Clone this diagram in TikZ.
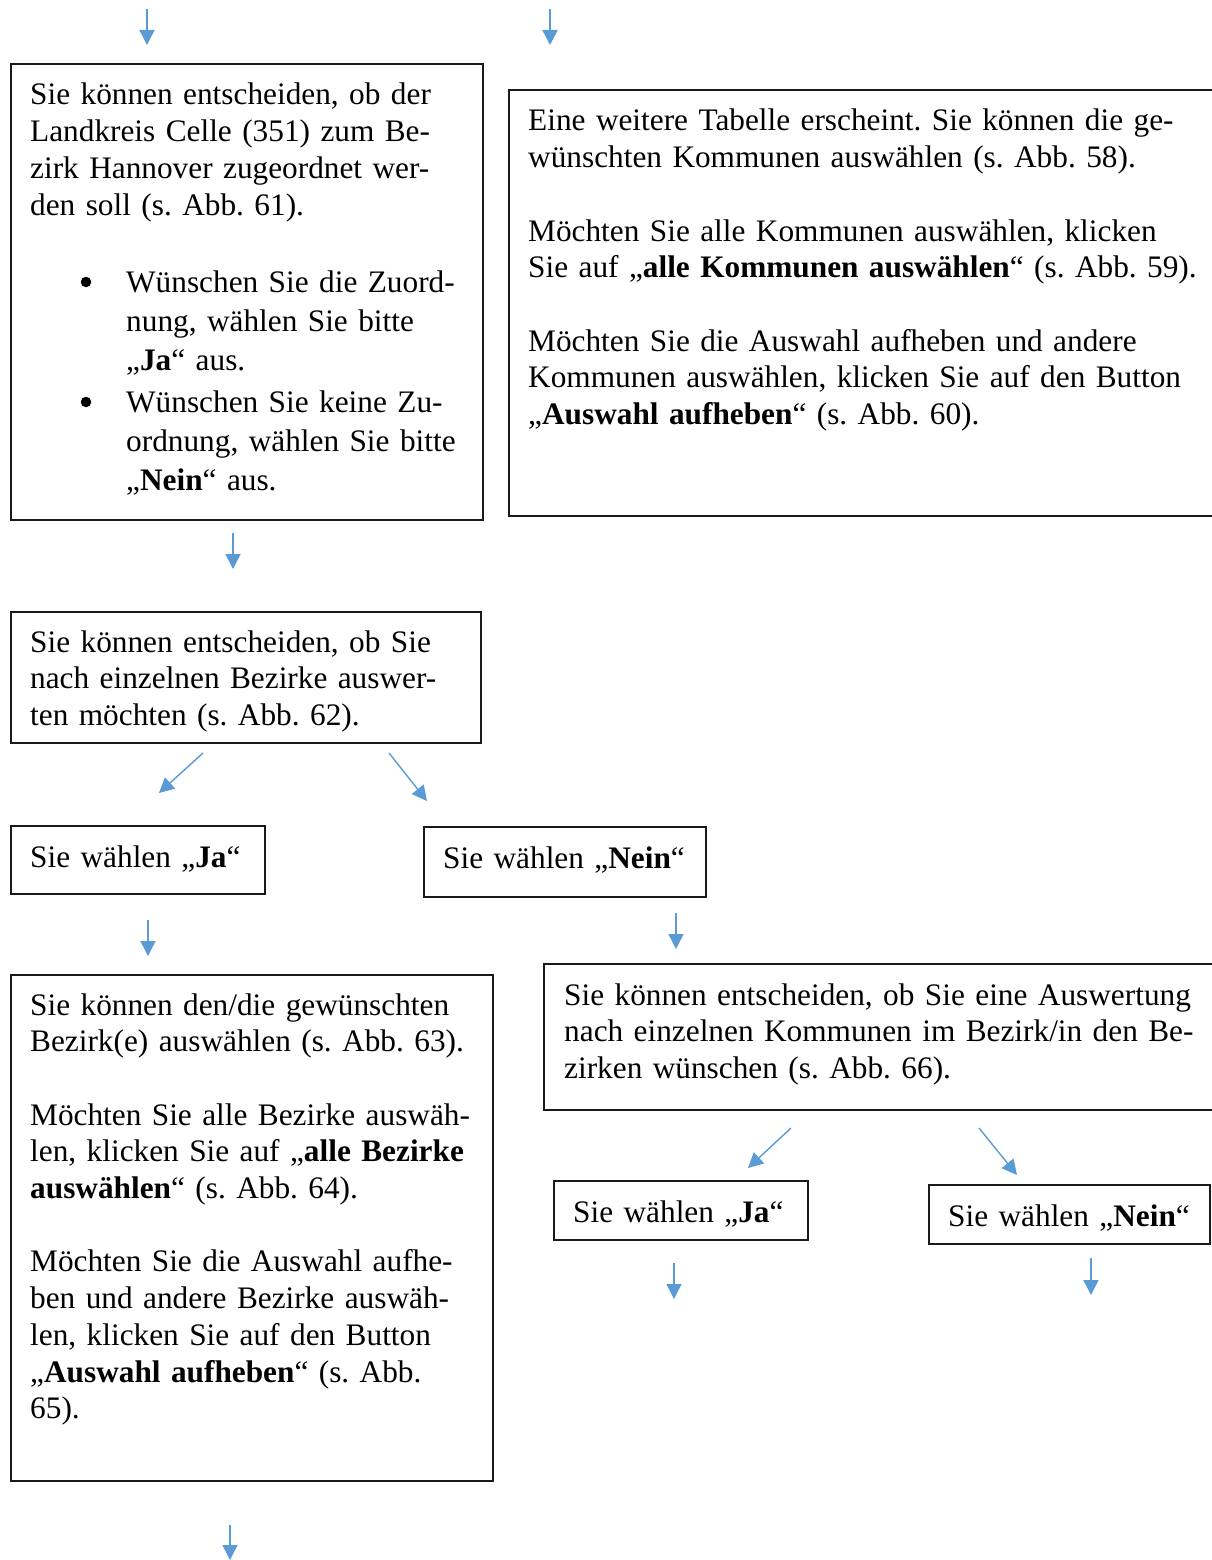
\documentclass[tikz,border=0pt]{standalone}
\usepackage{fontspec}
\setmainfont{Liberation Serif}
\usetikzlibrary{arrows.meta}
\definecolor{arrowblue}{HTML}{5B9BD5}
\definecolor{boxline}{HTML}{1A1A1A}
\frenchspacing
\tikzset{
  box/.style={draw=boxline, line width=1.6pt, rectangle, inner sep=0pt, anchor=north west},
  txt/.style={inner sep=0pt, anchor=base west, align=left, text width=#1,
              font=\fontsize{31.3}{36.7}\selectfont\frenchspacing},
  bul/.style={circle, fill=black, inner sep=0pt, minimum size=10.5pt},
  flow/.style={draw=arrowblue, line width=1.4pt, -{Triangle[length=15pt,width=15pt]}}
}
\begin{document}
\begin{tikzpicture}[x=1pt,y=-1pt]
\useasboundingbox[fill=white] (0,0) rectangle (1211,1560);

% ---------- boxes ----------
\node[box, minimum width=472pt, minimum height=456pt] (A) at (10,63) {};
\node[box, minimum width=712pt, minimum height=426pt] (B) at (508,89) {};
\node[box, minimum width=470pt, minimum height=131pt] (C) at (10,611) {};
\node[box, minimum width=254pt, minimum height=68pt] (Ja) at (10,825) {};
\node[box, minimum width=282pt, minimum height=70pt] (Nein) at (423,826) {};
\node[box, minimum width=482pt, minimum height=506pt] (D) at (10,974) {};
\node[box, minimum width=677pt, minimum height=146pt] (E) at (543,963) {};
\node[box, minimum width=254pt, minimum height=59pt] (Ja2) at (553,1180) {};
\node[box, minimum width=281pt, minimum height=59pt] (Nein2) at (928,1184) {};

% ---------- texts ----------
\node[txt=700pt] (Atext) at (30,105) {Sie können entscheiden, ob der\\Landkreis Celle (351) zum Be-\\zirk Hannover zugeordnet wer-\\den soll (s. Abb. 61).};
\node[bul] (bul1) at (86,282) {};
\node[txt=700pt, font=\fontsize{31.3}{39}\selectfont] (Ab1) at (126,292) {Wünschen Sie die Zuord-\\nung, wählen Sie bitte\\„\textbf{Ja}“ aus.};
\node[bul] (bul2) at (86,402) {};
\node[txt=700pt, font=\fontsize{31.3}{39}\selectfont] (Ab2) at (126,412) {Wünschen Sie keine Zu-\\ordnung, wählen Sie bitte\\„\textbf{Nein}“ aus.};

\node[txt=800pt] (Btext) at (528,131) {Eine weitere Tabelle erscheint. Sie können die ge-\\wünschten Kommunen auswählen (s. Abb. 58).\\[36.7pt]Möchten Sie alle Kommunen auswählen, klicken\\Sie auf „\textbf{alle Kommunen auswählen}“ (s. Abb. 59).\\[36.7pt]Möchten Sie die Auswahl aufheben und andere\\Kommunen auswählen, klicken Sie auf den Button\\„\textbf{Auswahl aufheben}“ (s. Abb. 60).};

\node[txt=700pt] (Ctext) at (30,652) {Sie können entscheiden, ob Sie\\nach einzelnen Bezirke auswer-\\ten möchten (s. Abb. 62).};

\node[txt=400pt] (Jatext) at (30,867) {Sie wählen „\textbf{Ja}“};
\node[txt=400pt] (Neintext) at (443,868) {Sie wählen „\textbf{Nein}“};

\node[txt=700pt] (Dtext) at (30,1015) {Sie können den/die gewünschten\\Bezirk(e) auswählen (s. Abb. 63).\\[36.7pt]Möchten Sie alle Bezirke auswäh-\\len, klicken Sie auf „\textbf{alle Bezirke}\\\textbf{auswählen}“ (s. Abb. 64).\\[36.7pt]Möchten Sie die Auswahl aufhe-\\ben und andere Bezirke auswäh-\\len, klicken Sie auf den Button\\„\textbf{Auswahl aufheben}“ (s. Abb.\\65).};

\node[txt=800pt] (Etext) at (564,1005) {Sie können entscheiden, ob Sie eine Auswertung\\nach einzelnen Kommunen im Bezirk/in den Be-\\zirken wünschen (s. Abb. 66).};

\node[txt=400pt] (Ja2text) at (573,1222) {Sie wählen „\textbf{Ja}“};
\node[txt=400pt] (Nein2text) at (948,1226) {Sie wählen „\textbf{Nein}“};

% ---------- arrow end points ----------
\coordinate (t1s) at (147,9);   \coordinate (t1e) at (147,45);
\coordinate (t2s) at (550,9);   \coordinate (t2e) at (550,45);
\coordinate (acs) at (233,533); \coordinate (ace) at (233,569);
\coordinate (cjs) at (203,753); \coordinate (cje) at (159,793);
\coordinate (cns) at (389,753); \coordinate (cne) at (427,801);
\coordinate (jds) at (148,920); \coordinate (jde) at (148,956);
\coordinate (nes) at (676,913); \coordinate (nee) at (676,949);
\coordinate (ejs) at (791,1128); \coordinate (eje) at (748,1168);
\coordinate (ens) at (979,1128); \coordinate (ene) at (1017,1175);
\coordinate (j2s) at (674,1263); \coordinate (j2e) at (674,1299);
\coordinate (n2s) at (1091,1258); \coordinate (n2e) at (1091,1295);
\coordinate (dds) at (230,1525); \coordinate (dde) at (230,1560);

\draw[flow] (t1s) -- (t1e);
\draw[flow] (t2s) -- (t2e);
\draw[flow] (acs) -- (ace);
\draw[flow] (cjs) -- (cje);
\draw[flow] (cns) -- (cne);
\draw[flow] (jds) -- (jde);
\draw[flow] (nes) -- (nee);
\draw[flow] (ejs) -- (eje);
\draw[flow] (ens) -- (ene);
\draw[flow] (j2s) -- (j2e);
\draw[flow] (n2s) -- (n2e);
\draw[flow] (dds) -- (dde);
\end{tikzpicture}
\end{document}
